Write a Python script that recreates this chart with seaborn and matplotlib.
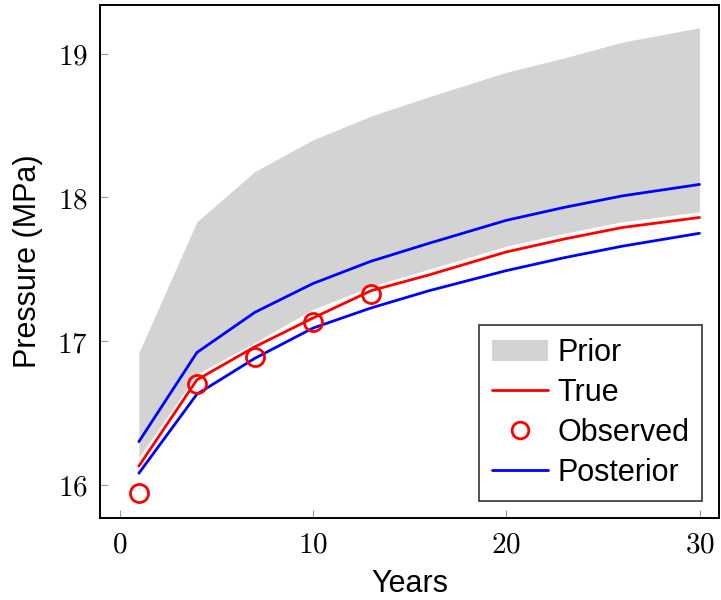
import matplotlib
matplotlib.use("Agg")
import matplotlib.pyplot as plt
import seaborn as sns
import pandas as pd
from matplotlib.patches import Patch
from matplotlib.lines import Line2D

years = [1, 4, 7, 10, 13, 16, 20, 23, 26, 30]
prior_upper = [16.92, 17.83, 18.18, 18.40, 18.565, 18.70, 18.87, 18.97, 19.08, 19.18]
prior_lower = [16.19, 16.77, 16.99, 17.22, 17.38, 17.50, 17.66, 17.75, 17.83, 17.90]
true_vals = [16.13, 16.73, 16.96, 17.16, 17.35, 17.46, 17.62, 17.71, 17.79, 17.86]
post_upper = [16.30, 16.92, 17.20, 17.40, 17.555, 17.68, 17.84, 17.93, 18.01, 18.09]
post_lower = [16.08, 16.63, 16.88, 17.09, 17.23, 17.35, 17.49, 17.58, 17.66, 17.75]
obs_years = [1, 4, 7, 10, 13]
obs_vals = [15.94, 16.70, 16.89, 17.13, 17.33]

xticks = [0, 10, 20, 30]
yticks = [16, 17, 18, 19]

sns.set_theme(style="white")
plt.rcParams['font.family'] = ['Liberation Sans', 'DejaVu Sans']
plt.rcParams['mathtext.fontset'] = 'cm'
plt.rcParams['text.color'] = 'black'
plt.rcParams['axes.labelcolor'] = 'black'
plt.rcParams['xtick.labelcolor'] = 'black'
plt.rcParams['ytick.labelcolor'] = 'black'

df = pd.DataFrame({"year": years, "prior_upper": prior_upper, "prior_lower": prior_lower,
                   "true": true_vals, "post_upper": post_upper, "post_lower": post_lower})
obs = pd.DataFrame({"year": obs_years, "p": obs_vals})

LW = 2.0
fig = plt.figure(figsize=(7.21, 6.0), dpi=100)
ax = fig.add_axes([0.139, 0.137, 0.858, 0.855])

ax.fill_between(df["year"], df["prior_lower"], df["prior_upper"], color="#d3d3d3", linewidth=0, zorder=1)
sns.lineplot(data=df, x="year", y="true", color="red", linewidth=LW, ax=ax, zorder=3)
sns.lineplot(data=df, x="year", y="post_upper", color="blue", linewidth=LW, ax=ax, zorder=3)
sns.lineplot(data=df, x="year", y="post_lower", color="blue", linewidth=LW, ax=ax, zorder=3)
ax.plot(obs["year"], obs["p"], linestyle="none", marker="o", markersize=13,
        markerfacecolor="none", markeredgecolor="red", markeredgewidth=2.0, zorder=4)

ax.set_xlim(-1, 31)
ax.set_ylim(15.77, 19.34)
ax.set_xticks(xticks)
ax.set_xticklabels([f"${t}$" for t in xticks], fontsize=21)
ax.set_yticks(yticks)
ax.set_yticklabels([f"${t}$" for t in yticks], fontsize=21)
ax.tick_params(axis="both", direction="in", length=6, width=0.8, color="#999999",
               bottom=True, left=True, top=False, right=False, pad=9)
for s in ax.spines.values():
    s.set_color("black")
    s.set_linewidth(1.4)

ax.set_xlabel("Years", fontsize=22, labelpad=8)
ax.set_ylabel("Pressure (MPa)", fontsize=22, labelpad=10)

handles = [Patch(facecolor="#d3d3d3", edgecolor="none"),
           Line2D([], [], color="red", linewidth=LW),
           Line2D([], [], color="red", linestyle="none", marker="o", markersize=12,
                  markerfacecolor="none", markeredgewidth=2.0),
           Line2D([], [], color="blue", linewidth=LW)]
leg = ax.legend(handles, ["Prior", "True", "Observed", "Posterior"], loc="lower right",
                fontsize=22, frameon=True, fancybox=False, edgecolor="black",
                borderaxespad=0.55, handlelength=1.85, handletextpad=0.3,
                labelspacing=0.33, borderpad=0.42)
leg.get_frame().set_linewidth(1.2)

fig.savefig("out.png", dpi=100)
